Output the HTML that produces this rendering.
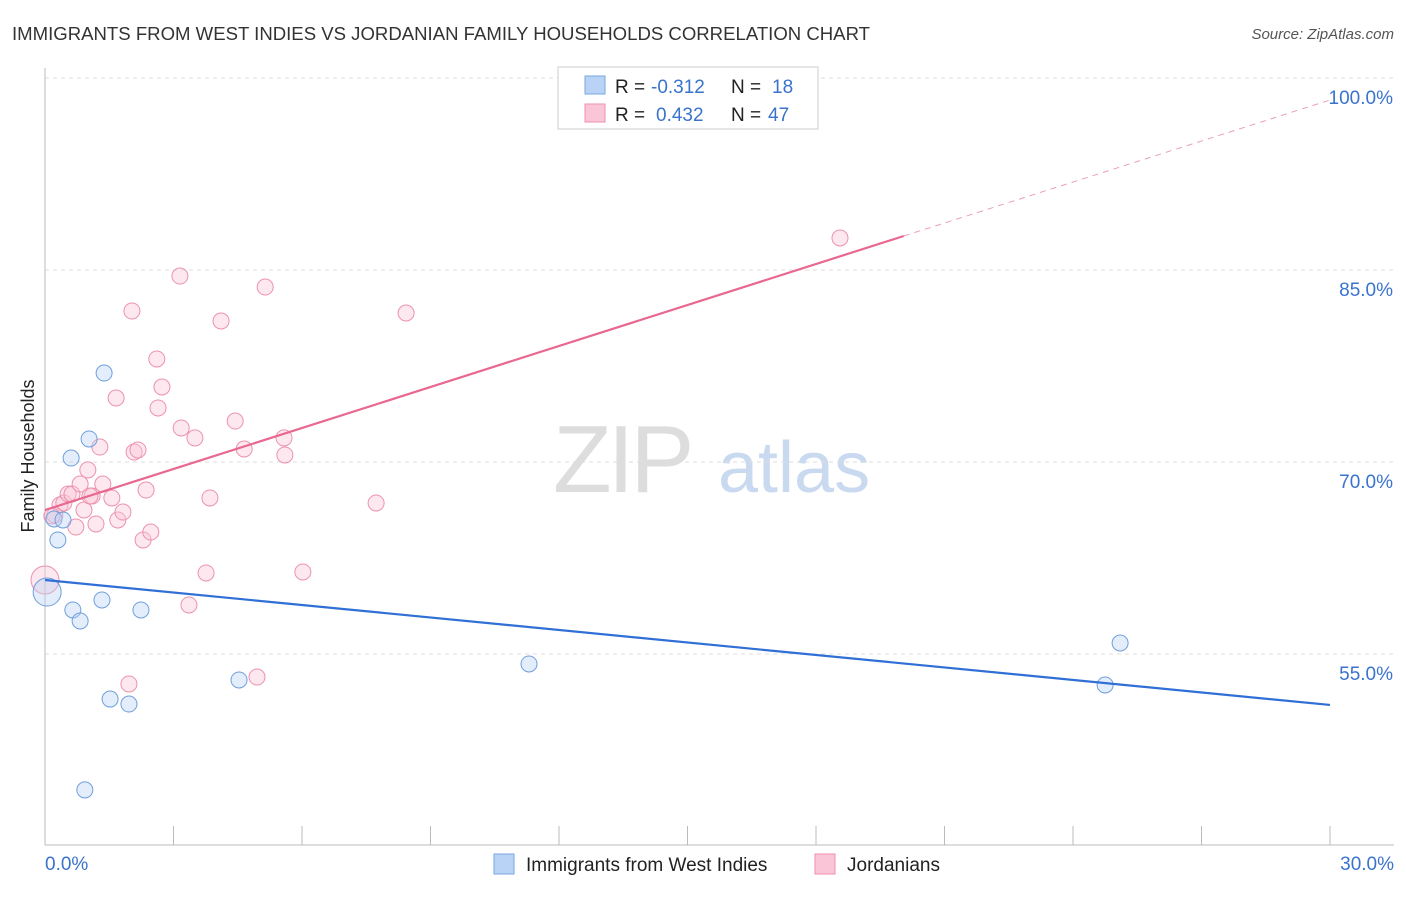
<!DOCTYPE html>
<html><head><meta charset="utf-8"><style>
body{margin:0;background:#fff;font-family:"Liberation Sans",sans-serif}
svg text{font-family:"Liberation Sans",sans-serif}
</style></head><body>
<svg id="c" width="1406" height="892" xmlns="http://www.w3.org/2000/svg">
<text x="12" y="40" font-size="18" fill="#333" textLength="858" lengthAdjust="spacingAndGlyphs">IMMIGRANTS FROM WEST INDIES VS JORDANIAN FAMILY HOUSEHOLDS CORRELATION CHART</text>
<text x="1394" y="39" font-size="15" fill="#555" text-anchor="end" font-style="italic">Source: ZipAtlas.com</text>
<text x="34" y="456" font-size="18" fill="#222" text-anchor="middle" transform="rotate(-90 34 456)">Family Households</text>
<g><text x="553" y="492" font-size="96" fill="#ddd" font-family="Liberation Serif" letter-spacing="-4">ZIP</text><text x="718" y="492" font-size="72" fill="#c9daf0">atlas</text></g>
<g id="grid"></g><g id="marks"></g>
<g>
<rect x="558" y="67" width="260" height="62" fill="#fff" stroke="#ccc"/>
<rect x="585" y="76" width="20" height="18" fill="#b8d3f5" stroke="#7aa7e0"/>
<rect x="585" y="104" width="20" height="18" fill="#fac5d6" stroke="#ec92ae"/>
<text x="615" y="93" font-size="19" fill="#222">R =</text>
<text x="651" y="93" font-size="19" fill="#3a73cc">-0.312</text>
<text x="731" y="93" font-size="19" fill="#222">N =</text>
<text x="772" y="93" font-size="19" fill="#3a73cc">18</text>
<text x="615" y="121" font-size="19" fill="#222">R =</text>
<text x="656" y="121" font-size="19" fill="#3a73cc">0.432</text>
<text x="731" y="121" font-size="19" fill="#222">N =</text>
<text x="768" y="121" font-size="19" fill="#3a73cc">47</text>
</g>
<g>
<rect x="494" y="854" width="20" height="20" fill="#b8d3f5" stroke="#7aa7e0"/>
<text x="526" y="871" font-size="19" fill="#222">Immigrants from West Indies</text>
<rect x="815" y="854" width="20" height="20" fill="#fac5d6" stroke="#ec92ae"/>
<text x="847" y="871" font-size="19" fill="#222">Jordanians</text>
</g>
</svg>
<script>
const yTicks=[55,70,85,100];
const xTickLabels=["0.0%","30.0%"];
const blueX=[0.05,0.21,0.42,0.30,0.61,1.03,1.38,0.65,0.82,1.33,2.24,1.52,1.96,0.93,4.53,11.30,25.10,24.75];
const blueY=[59.84,65.55,65.47,63.91,70.31,71.80,76.95,58.44,57.58,59.22,58.44,51.48,51.09,44.38,52.97,54.22,55.86,52.58];
const pinkX=[0.0,0.23,0.35,0.44,0.54,0.63,0.72,0.82,0.91,1.00,1.10,1.19,1.28,1.35,1.56,1.66,1.70,1.82,1.96,2.03,2.08,2.17,2.29,2.36,2.47,2.61,2.64,2.73,3.15,3.18,3.36,3.50,3.76,3.85,4.11,4.44,4.65,4.95,5.14,5.58,5.60,6.02,7.73,8.43,18.56,0.16,1.05];
const pinkY=[60.78,65.86,66.64,66.80,67.50,67.50,64.92,68.28,66.25,69.38,67.34,65.16,71.17,68.28,67.19,75.00,65.47,66.09,52.66,81.80,70.78,70.94,63.91,67.81,64.53,78.05,74.22,75.86,84.53,72.66,58.83,71.88,61.33,67.19,81.02,73.20,71.02,53.20,83.67,71.88,70.55,61.41,66.80,81.64,87.50,65.78,67.34];
const blueTrend=[60.78,51.02];
const pinkTrend=[66.25,98.28];
const pinkSolidEnd=20.05;
const X=v=>45+v/30*1285, Y=v=>78+(100-v)*12.8;
const NS="http://www.w3.org/2000/svg";
function mk(t,a,p){const e=document.createElementNS(NS,t);for(const k in a)e.setAttribute(k,a[k]);p.appendChild(e);return e;}
const g=document.getElementById('grid'),m=document.getElementById('marks');
yTicks.forEach(v=>{const l=mk('line',{x1:45,x2:1394,y1:Y(v),y2:Y(v),stroke:'#ddd','stroke-dasharray':'4,4'},g);


const t=mk('text',{x:1393,y:Y(v)+26,'font-size':19,fill:'#3a73cc','text-anchor':'end'},g);t.textContent=v.toFixed(1)+'%';

});
const ax=mk('line',{x1:45,x2:1394,y1:845,y2:845,stroke:'#bbb'},g);


const ay=mk('line',{x1:45,x2:45,y1:68,y2:845,stroke:'#bbb'},g);


for(let i=1;i<=10;i++){const t=mk('line',{x1:X(i*3),x2:X(i*3),y1:826,y2:845,stroke:'#bbb'},g);

}
[[0,'start',45],[30,'end',1394]].forEach((d,i)=>{const t=mk('text',{x:d[2],y:870,'font-size':19,fill:'#3a73cc','text-anchor':d[1]},g);t.textContent=xTickLabels[i];

});
function pts(xs,ys,fill,stroke,name){xs.forEach((x,i)=>{const r=(i==0)?14:8;const c=mk('circle',{cx:X(x),cy:Y(ys[i]),r:r,fill:fill,'fill-opacity':0.4,stroke:stroke,'stroke-width':1},m);

});}
pts(pinkX,pinkY,'#fac5d6','#ec92ae','jordanians-point');
pts(blueX,blueY,'#b8d3f5','#6f9fdc','west-indies-point');
const bl=mk('line',{x1:X(0),y1:Y(blueTrend[0]),x2:X(30),y2:Y(blueTrend[1]),stroke:'#2f6fd6','stroke-width':2.2},m);


const py=x=>pinkTrend[0]+(pinkTrend[1]-pinkTrend[0])*x/30;
const pl=mk('line',{x1:X(0),y1:Y(py(0)),x2:X(pinkSolidEnd),y2:Y(py(pinkSolidEnd)),stroke:'#e8688f','stroke-width':2.2},m);


const pd=mk('line',{x1:X(pinkSolidEnd),y1:Y(py(pinkSolidEnd)),x2:X(30),y2:Y(py(30)),stroke:'#e8a0b5','stroke-width':1,'stroke-dasharray':'6,5'},m);


</script>
</body></html>
